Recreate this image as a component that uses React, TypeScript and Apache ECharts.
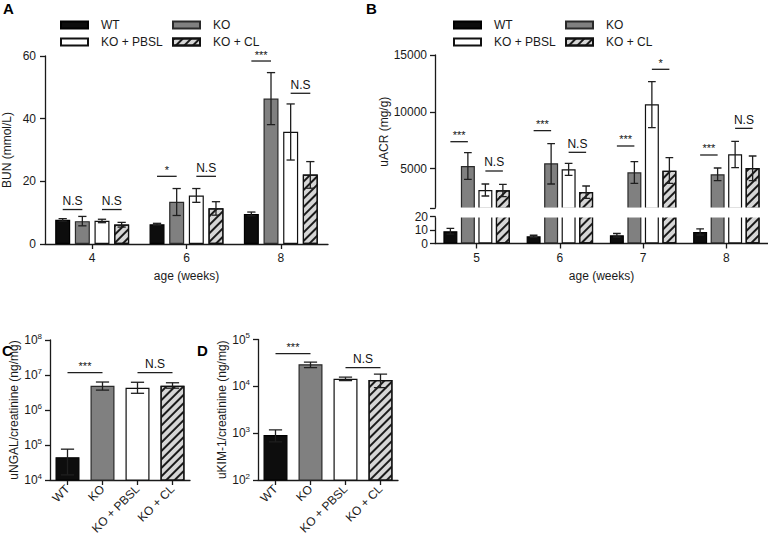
import React, { useEffect, useRef } from 'react';
import * as echarts from 'echarts';

const FONT = "'Liberation Sans', Arial, Helvetica, sans-serif";
const INK = '#1a1a1a';

const groups = ['WT', 'KO', 'KO + PBSL', 'KO + CL'];
const weeksA = ['4', '6', '8'];
const weeksB = ['5', '6', '7', '8'];

// Panel A: BUN (mmol/L), mean with error bar low/high
const bunWT = [7.7, 6.3, 9.6];
const bunWTLow = [7.3, 6.0, 9.0];
const bunWTHigh = [8.1, 6.6, 10.2];
const bunKO = [7.3, 13.5, 46.4];
const bunKOLow = [5.8, 9.1, 38.1];
const bunKOHigh = [8.8, 17.7, 54.7];
const bunPBSL = [7.4, 15.5, 35.8];
const bunPBSLLow = [6.8, 13.3, 26.8];
const bunPBSLHigh = [7.9, 17.7, 44.7];
const bunCL = [6.2, 11.4, 22.2];
const bunCLLow = [5.4, 9.2, 17.8];
const bunCLHigh = [6.9, 13.5, 26.3];
// significance: [week index, bar from, bar to, height]
const sigA = [[0, 0, 1, 11], [0, 2, 3, 11], [1, 0, 1, 21.6], [1, 2, 3, 21.6], [2, 0, 1, 58.4], [2, 2, 3, 48.1]];
const sigAText = ['N.S', 'N.S', '*', 'N.S', '***', 'N.S'];

// Panel B: uACR (mg/g)
const uacrWT = [9.1, 5.3, 6.1, 8.6];
const uacrWTLow = [7.0, 4.5, 4.8, 6.3];
const uacrWTHigh = [11.2, 6.1, 7.4, 10.9];
const uacrKO = [5225, 5463, 4670, 4494];
const uacrKOLow = [4054, 3640, 3700, 3930];
const uacrKOHigh = [6397, 7190, 5605, 5050];
const uacrPBSL = [3112, 4935, 10658, 6256];
const uacrPBSLLow = [2584, 4406, 8600, 5076];
const uacrPBSLHigh = [3640, 5460, 12650, 7400];
const uacrCL = [3085, 2936, 4812, 5049];
const uacrCLLow = [2522, 2380, 3700, 3930];
const uacrCLHigh = [3614, 3464, 5956, 6106];
const sigB = [[0, 0, 1, 7366], [0, 2, 3, 4785], [1, 0, 1, 8340], [1, 2, 3, 6430], [2, 0, 1, 6987], [2, 2, 3, 13740], [3, 0, 1, 6194], [3, 2, 3, 8540]];
const sigBText = ['***', 'N.S', '***', 'N.S', '***', '*', '***', 'N.S'];
const uacrUpperTicks = [1500, 5000, 10000, 15000];
const uacrUpperLabels = [5000, 10000, 15000];

// Panel C: uNGAL/creatinine (ng/mg)
const ngal = [4.5e4, 4.9e6, 4.3e6, 4.9e6];
const ngalLow = [1.4e4, 3.7e6, 3.0e6, 4.2e6];
const ngalHigh = [7.6e4, 6.3e6, 6.2e6, 6.0e6];
const sigC = [[0, 1, 1.17e7], [2, 3, 1.17e7]];
const sigCText = ['***', 'N.S'];

// Panel D: uKIM-1/creatinine (ng/mg)
const kim = [910, 2.97e4, 1.45e4, 1.36e4];
const kimLow = [650, 2.5e4, 1.33e4, 9.4e3];
const kimHigh = [1170, 3.3e4, 1.57e4, 1.83e4];
const sigD = [[0, 1, 5.0e4], [2, 3, 2.5e4]];
const sigDText = ['***', 'N.S'];

const hatch = {
  symbol: 'rect',
  symbolSize: 1,
  color: '#1a1a1a',
  dashArrayX: [1, 0],
  dashArrayY: [1.3, 3.2],
  rotation: -Math.PI / 4,
};
const barStyles: any[] = [
  { color: '#0d0d0d', borderColor: '#000000', borderWidth: 1.2 },
  { color: '#808080', borderColor: '#2a2a2a', borderWidth: 1.2 },
  { color: '#ffffff', borderColor: '#111111', borderWidth: 1.2 },
  { color: '#d6d6d6', borderColor: '#111111', borderWidth: 1.2, decal: hatch },
];

const A_BW = 15, A_GAP = 0.31;
const B_BW = 14, B_GAP = 0.25;
const CD_BW = 24;

const GA = { left: 44, top: 56, width: 284, height: 188 };
const GBU = { left: 435, top: 55, width: 333, height: 153.3 };
const GBL = { left: 435, top: 216.5, width: 333, height: 27 };
const GC = { left: 50, top: 340, width: 140, height: 140 };
const GD = { left: 258, top: 339.5, width: 140, height: 140.5 };

function offset(bw: number, gap: number, n: number, k: number) {
  return (k - (n - 1) / 2) * bw * (1 + gap);
}

function errRender(bw: number, gap: number, n: number) {
  const cap = bw * 0.55;
  return (params: any, api: any) => {
    const cat = api.value(0), k = api.value(1), lo = api.value(2), hi = api.value(3);
    const pLo = api.coord([cat, lo]);
    const pHi = api.coord([cat, hi]);
    const x = pLo[0] + offset(bw, gap, n, k);
    const st = { stroke: '#1f1f1f', lineWidth: 1.3 };
    return {
      type: 'group',
      children: [
        { type: 'line', shape: { x1: x, y1: pLo[1], x2: x, y2: pHi[1] }, style: st },
        { type: 'line', shape: { x1: x - cap / 2, y1: pLo[1], x2: x + cap / 2, y2: pLo[1] }, style: st },
        { type: 'line', shape: { x1: x - cap / 2, y1: pHi[1], x2: x + cap / 2, y2: pHi[1] }, style: st },
      ],
    };
  };
}

function sigGroup(x1: number, x2: number, y: number, text: string) {
  const star = text.indexOf('*') >= 0;
  return {
    type: 'group',
    children: [
      { type: 'line', shape: { x1, y1: y, x2, y2: y }, style: { stroke: '#1f1f1f', lineWidth: 1.3 } },
      {
        type: 'text',
        x: (x1 + x2) / 2,
        y: y - (star ? 1 : 2.5),
        style: {
          text,
          fontSize: star ? 11 : 12,
          fontFamily: FONT,
          fill: '#111111',
          stroke: 'none',
          textAlign: 'center',
          textVerticalAlign: 'bottom',
        },
      },
    ],
  };
}

function sigRenderGrouped(bw: number, gap: number, n: number, texts: string[]) {
  return (params: any, api: any) => {
    const cat = api.value(0), k1 = api.value(1), k2 = api.value(2), y = api.value(3);
    const p = api.coord([cat, y]);
    return sigGroup(p[0] + offset(bw, gap, n, k1), p[0] + offset(bw, gap, n, k2), p[1], texts[params.dataIndex]);
  };
}

function sigRenderSingle(texts: string[]) {
  return (params: any, api: any) => {
    const c1 = api.value(0), c2 = api.value(1), y = api.value(2);
    const p1 = api.coord([c1, y]);
    const p2 = api.coord([c2, y]);
    return sigGroup(p1[0], p2[0], p1[1], texts[params.dataIndex]);
  };
}

const axisLineCfg = { show: true, lineStyle: { color: INK, width: 1.3 } };
const axisTickCfg = { show: true, length: 5, lineStyle: { color: INK, width: 1.3 } };
const labelCfg = { color: INK, fontSize: 12, fontFamily: FONT, margin: 8 };
const nameCfg = { color: INK, fontSize: 12, fontFamily: FONT };

function logLabel() {
  return {
    color: INK,
    fontFamily: FONT,
    margin: 8,
    formatter: (v: number) => '{b|10}{e|' + Math.round(Math.log10(v)) + '}',
    rich: {
      b: { fontSize: 12, fontFamily: FONT, color: INK, lineHeight: 16 },
      e: { fontSize: 8, fontFamily: FONT, color: INK, verticalAlign: 'top', lineHeight: 16 },
    },
  };
}

function catAxis(grid: number, data: string[], extra: any = {}) {
  return {
    type: 'category',
    gridIndex: grid,
    data,
    axisLine: axisLineCfg,
    axisTick: { ...axisTickCfg, alignWithLabel: true },
    axisLabel: labelCfg,
    splitLine: { show: false },
    nameTextStyle: nameCfg,
    ...extra,
  };
}

function buildErr(means: number[][], lows: number[][], highs: number[][]) {
  const out: number[][] = [];
  means.forEach((m, k) => m.forEach((_, i) => out.push([i, k, lows[k][i], highs[k][i]])));
  return out;
}

export default function App() {
  const ref = useRef<HTMLDivElement>(null);
  useEffect(() => {
    document.body.style.margin = '0';
    const chart = echarts.init(ref.current!, null, { renderer: 'svg' });

    const aMeans = [bunWT, bunKO, bunPBSL, bunCL];
    const aLows = [bunWTLow, bunKOLow, bunPBSLLow, bunCLLow];
    const aHighs = [bunWTHigh, bunKOHigh, bunPBSLHigh, bunCLHigh];
    const bMeans = [uacrWT, uacrKO, uacrPBSL, uacrCL];
    const bLows = [uacrWTLow, uacrKOLow, uacrPBSLLow, uacrCLLow];
    const bHighs = [uacrWTHigh, uacrKOHigh, uacrPBSLHigh, uacrCLHigh];

    const series: any[] = [];
    groups.forEach((name, k) => {
      series.push({ type: 'bar', name, xAxisIndex: 0, yAxisIndex: 0, data: aMeans[k], barWidth: A_BW, barGap: A_GAP * 100 + '%', itemStyle: barStyles[k], clip: true });
    });
    groups.forEach((name, k) => {
      series.push({ type: 'bar', name, xAxisIndex: 1, yAxisIndex: 1, data: bMeans[k], barWidth: B_BW, barGap: B_GAP * 100 + '%', itemStyle: barStyles[k], clip: true });
      series.push({ type: 'bar', name, xAxisIndex: 2, yAxisIndex: 2, data: bMeans[k], barWidth: B_BW, barGap: B_GAP * 100 + '%', itemStyle: barStyles[k], clip: true });
    });
    series.push({
      type: 'bar', name: 'uNGAL', xAxisIndex: 3, yAxisIndex: 3, barWidth: CD_BW, clip: true,
      data: ngal.map((v, i) => ({ value: v, itemStyle: barStyles[i] })),
    });
    series.push({
      type: 'bar', name: 'uKIM-1', xAxisIndex: 4, yAxisIndex: 4, barWidth: CD_BW, clip: true,
      data: kim.map((v, i) => ({ value: v, itemStyle: barStyles[i] })),
    });

    const errA = buildErr(aMeans, aLows, aHighs);
    const errB = buildErr(bMeans, bLows, bHighs);
    const errC = ngal.map((_, i) => [i, 0, ngalLow[i], ngalHigh[i]]);
    const errD = kim.map((_, i) => [i, 0, kimLow[i], kimHigh[i]]);
    const errCommon = { type: 'custom', clip: true, z: 5, silent: true, encode: { x: 0, y: [2, 3] } };
    series.push({ ...errCommon, name: 'errA', xAxisIndex: 0, yAxisIndex: 0, data: errA, renderItem: errRender(A_BW, A_GAP, 4) });
    series.push({ ...errCommon, name: 'errBu', xAxisIndex: 1, yAxisIndex: 1, data: errB, renderItem: errRender(B_BW, B_GAP, 4) });
    series.push({ ...errCommon, name: 'errBl', xAxisIndex: 2, yAxisIndex: 2, data: errB, renderItem: errRender(B_BW, B_GAP, 4) });
    series.push({ ...errCommon, name: 'errC', xAxisIndex: 3, yAxisIndex: 3, data: errC, renderItem: errRender(CD_BW, 0, 1) });
    series.push({ ...errCommon, name: 'errD', xAxisIndex: 4, yAxisIndex: 4, data: errD, renderItem: errRender(CD_BW, 0, 1) });

    const sigCommon = { type: 'custom', z: 6, silent: true, clip: false, itemStyle: { color: '#111111' } };
    series.push({ ...sigCommon, name: 'sigA', xAxisIndex: 0, yAxisIndex: 0, data: sigA, encode: { x: 0, y: 3 }, renderItem: sigRenderGrouped(A_BW, A_GAP, 4, sigAText) });
    series.push({ ...sigCommon, name: 'sigB', xAxisIndex: 1, yAxisIndex: 1, data: sigB, encode: { x: 0, y: 3 }, renderItem: sigRenderGrouped(B_BW, B_GAP, 4, sigBText) });
    series.push({ ...sigCommon, name: 'sigC', xAxisIndex: 3, yAxisIndex: 3, data: sigC, encode: { x: 0, y: 2 }, renderItem: sigRenderSingle(sigCText) });
    series.push({ ...sigCommon, name: 'sigD', xAxisIndex: 4, yAxisIndex: 4, data: sigD, encode: { x: 0, y: 2 }, renderItem: sigRenderSingle(sigDText) });

    const legendBase = {
      orient: 'vertical',
      top: 14,
      itemWidth: 27,
      itemHeight: 7,
      itemGap: 5,
      icon: 'rect',
      selectedMode: false,
      textStyle: { color: INK, fontSize: 12, fontFamily: FONT, padding: [0, 0, 0, 8] },
    };

    const maskY = GBU.top + GBU.height - 0.7;
    const maskH = GBL.top + 0.9 - maskY;

    const option: any = {
      animation: false,
      textStyle: { fontFamily: FONT },
      legend: [
        { ...legendBase, left: 55, data: ['WT', 'KO + PBSL'] },
        { ...legendBase, left: 167, data: ['KO', 'KO + CL'] },
        { ...legendBase, left: 448, data: ['WT', 'KO + PBSL'] },
        { ...legendBase, left: 560, data: ['KO', 'KO + CL'] },
      ],
      grid: [GA, GBU, GBL, GC, GD].map((g) => ({ ...g, containLabel: false })),
      xAxis: [
        catAxis(0, weeksA, { name: 'age (weeks)', nameLocation: 'middle', nameGap: 26 }),
        catAxis(1, weeksB, { axisLine: { show: false }, axisTick: { show: false }, axisLabel: { show: false } }),
        catAxis(2, weeksB, { name: 'age (weeks)', nameLocation: 'middle', nameGap: 26 }),
        catAxis(3, groups, { axisLabel: { ...labelCfg, rotate: 45, interval: 0, margin: 7 } }),
        catAxis(4, groups, { axisLabel: { ...labelCfg, rotate: 45, interval: 0, margin: 7 } }),
      ],
      yAxis: [
        {
          type: 'value', gridIndex: 0, min: 0, max: 60, interval: 20,
          name: 'BUN (mmol/L)', nameLocation: 'middle', nameGap: 32, nameTextStyle: nameCfg,
          axisLine: axisLineCfg, axisTick: axisTickCfg, axisLabel: { ...labelCfg, margin: 9 }, splitLine: { show: false },
        },
        {
          type: 'value', gridIndex: 1, min: 1500, max: 15000,
          name: 'uACR (mg/g)', nameLocation: 'middle', nameGap: 40, nameTextStyle: nameCfg,
          axisLine: axisLineCfg,
          axisTick: { ...axisTickCfg, customValues: uacrUpperTicks },
          axisLabel: { ...labelCfg, customValues: uacrUpperLabels, formatter: (v: number) => String(v) },
          splitLine: { show: false },
        },
        {
          type: 'value', gridIndex: 2, min: 0, max: 20, interval: 10,
          axisLine: axisLineCfg, axisTick: axisTickCfg, axisLabel: { ...labelCfg, margin: 7 }, splitLine: { show: false },
        },
        {
          type: 'log', gridIndex: 3, min: 1e4, max: 1e8, logBase: 10,
          name: 'uNGAL/creatinine (ng/mg)', nameLocation: 'middle', nameGap: 24, nameTextStyle: nameCfg,
          axisLine: axisLineCfg, axisTick: axisTickCfg, axisLabel: logLabel(), splitLine: { show: false }, minorTick: { show: false },
        },
        {
          type: 'log', gridIndex: 4, min: 1e2, max: 1e5, logBase: 10,
          name: 'uKIM-1/creatinine (ng/mg)', nameLocation: 'middle', nameGap: 28, nameTextStyle: nameCfg,
          axisLine: axisLineCfg, axisTick: axisTickCfg, axisLabel: logLabel(), splitLine: { show: false }, minorTick: { show: false },
        },
      ],
      graphic: [
        { type: 'rect', z: 100, shape: { x: GBU.left + 0.8, y: maskY, width: GBU.width, height: maskH }, style: { fill: '#ffffff' } },
        { type: 'text', left: 3, top: 1, style: { text: 'A', fontSize: 15, fontWeight: 'bold', fontFamily: FONT, fill: '#000' } },
        { type: 'text', left: 366, top: 1, style: { text: 'B', fontSize: 15, fontWeight: 'bold', fontFamily: FONT, fill: '#000' } },
        { type: 'text', left: 2, top: 343, style: { text: 'C', fontSize: 15, fontWeight: 'bold', fontFamily: FONT, fill: '#000' } },
        { type: 'text', left: 197, top: 343, style: { text: 'D', fontSize: 15, fontWeight: 'bold', fontFamily: FONT, fill: '#000' } },
      ],
      series,
    };
    chart.setOption(option);
    return () => chart.dispose();
  }, []);
  return <div ref={ref} style={{ width: 768, height: 544 }} />;
}
